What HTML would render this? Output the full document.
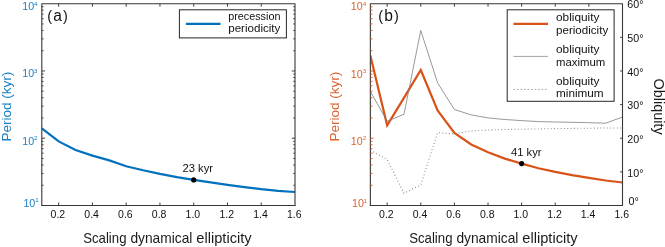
<!DOCTYPE html>
<html><head><meta charset="utf-8"><style>html,body{margin:0;padding:0;background:#fff}svg{display:block;will-change:transform}</style></head><body><svg width="665" height="247" viewBox="0 0 665 247" font-family="Liberation Sans, sans-serif">
<rect width="665" height="247" fill="#fff"/>
<clipPath id="c1"><rect x="41.8" y="3.7" width="253.2" height="201.8"/></clipPath>
<clipPath id="c2"><rect x="370.35" y="3.7" width="252.14999999999998" height="201.8"/></clipPath>
<polyline points="41.80,128.4 58.68,141.4 75.56,150.0 92.44,155.6 109.32,160.4 126.20,166.2 143.08,170.3 159.96,173.9 176.84,177.1 193.72,179.9 210.60,182.4 227.48,184.8 244.36,187.1 261.24,189.2 278.12,190.8 295.00,192.0" fill="none" stroke="#0072BD" stroke-width="2.2" stroke-linejoin="miter" clip-path="url(#c1)"/>
<path d="M41.30 3.70H295.50M41.80 3.70V206.00M295.00 3.70V206.00" fill="none" stroke="#3a3636" stroke-width="1.1"/>
<path d="M41.30 205.50H295.50" fill="none" stroke="#3a3636" stroke-width="1.0"/>
<path d="M58.68 205.50v-3M58.68 3.70v3M92.44 205.50v-3M92.44 3.70v3M126.20 205.50v-3M126.20 3.70v3M159.96 205.50v-3M159.96 3.70v3M193.72 205.50v-3M193.72 3.70v3M227.48 205.50v-3M227.48 3.70v3M261.24 205.50v-3M261.24 3.70v3" stroke="#3a3636" stroke-width="0.95" fill="none"/>
<path d="M41.80 185.25h1.7M41.80 173.41h1.7M41.80 165.00h1.7M41.80 158.48h1.7M41.80 153.16h1.7M41.80 148.65h1.7M41.80 144.75h1.7M41.80 141.31h1.7M41.80 138.23h3.2M41.80 117.98h1.7M41.80 106.14h1.7M41.80 97.73h1.7M41.80 91.22h1.7M41.80 85.89h1.7M41.80 81.39h1.7M41.80 77.49h1.7M41.80 74.04h1.7M41.80 70.97h3.2M41.80 50.72h1.7M41.80 38.87h1.7M41.80 30.47h1.7M41.80 23.95h1.7M41.80 18.62h1.7M41.80 14.12h1.7M41.80 10.22h1.7M41.80 6.78h1.7" stroke="#3a3636" stroke-width="0.95" fill="none"/>
<path d="M295.00 185.25h-1.7M295.00 173.41h-1.7M295.00 165.00h-1.7M295.00 158.48h-1.7M295.00 153.16h-1.7M295.00 148.65h-1.7M295.00 144.75h-1.7M295.00 141.31h-1.7M295.00 138.23h-3.2M295.00 117.98h-1.7M295.00 106.14h-1.7M295.00 97.73h-1.7M295.00 91.22h-1.7M295.00 85.89h-1.7M295.00 81.39h-1.7M295.00 77.49h-1.7M295.00 74.04h-1.7M295.00 70.97h-3.2M295.00 50.72h-1.7M295.00 38.87h-1.7M295.00 30.47h-1.7M295.00 23.95h-1.7M295.00 18.62h-1.7M295.00 14.12h-1.7M295.00 10.22h-1.7M295.00 6.78h-1.7" stroke="#3a3636" stroke-width="0.95" fill="none"/>
<text x="57.88" y="218.0" text-anchor="middle" font-size="10.7" fill="#111111" textLength="14.6" lengthAdjust="spacingAndGlyphs">0.2</text>
<text x="91.64" y="218.0" text-anchor="middle" font-size="10.7" fill="#111111" textLength="14.6" lengthAdjust="spacingAndGlyphs">0.4</text>
<text x="125.40" y="218.0" text-anchor="middle" font-size="10.7" fill="#111111" textLength="14.6" lengthAdjust="spacingAndGlyphs">0.6</text>
<text x="159.16" y="218.0" text-anchor="middle" font-size="10.7" fill="#111111" textLength="14.6" lengthAdjust="spacingAndGlyphs">0.8</text>
<text x="192.92" y="218.0" text-anchor="middle" font-size="10.7" fill="#111111" textLength="14.6" lengthAdjust="spacingAndGlyphs">1.0</text>
<text x="226.68" y="218.0" text-anchor="middle" font-size="10.7" fill="#111111" textLength="14.6" lengthAdjust="spacingAndGlyphs">1.2</text>
<text x="260.44" y="218.0" text-anchor="middle" font-size="10.7" fill="#111111" textLength="14.6" lengthAdjust="spacingAndGlyphs">1.4</text>
<text x="294.20" y="218.0" text-anchor="middle" font-size="10.7" fill="#111111" textLength="14.6" lengthAdjust="spacingAndGlyphs">1.6</text>
<text x="22.20" y="10.4" font-size="10.7" fill="#1a80c4">10<tspan dy="-4.4" font-size="6.2">4</tspan></text>
<text x="22.20" y="77.2" font-size="10.7" fill="#1a80c4">10<tspan dy="-4.4" font-size="6.2">3</tspan></text>
<text x="22.20" y="144.6" font-size="10.7" fill="#1a80c4">10<tspan dy="-4.4" font-size="6.2">2</tspan></text>
<text x="23.40" y="206.6" font-size="10.7" fill="#1a80c4">10<tspan dy="-4.4" font-size="6.2">1</tspan></text>
<text transform="translate(10.70,141.6) rotate(-90)" font-size="13.6" fill="#1a80c4" textLength="69.9" lengthAdjust="spacingAndGlyphs">Period (kyr)</text>
<text x="83.20" y="242.8" font-size="14.3" fill="#1a1a1a" textLength="43.3" lengthAdjust="spacingAndGlyphs">Scaling</text>
<text x="130.40" y="242.8" font-size="14.3" fill="#1a1a1a" textLength="62.0" lengthAdjust="spacingAndGlyphs">dynamical</text>
<text x="196.30" y="242.8" font-size="14.3" fill="#1a1a1a" textLength="55.3" lengthAdjust="spacingAndGlyphs">ellipticity</text>
<circle cx="193.72" cy="179.9" r="2.6" fill="#000"/>
<text x="182.5" y="171.8" font-size="10.5" fill="#111111" textLength="30.6" lengthAdjust="spacingAndGlyphs">23 kyr</text>
<text x="47.3" y="20.9" font-size="15.6" fill="#111" textLength="20.6" lengthAdjust="spacing"><tspan font-size="14.5">(</tspan>a<tspan font-size="14.5">)</tspan></text>
<rect x="179.4" y="9.8" width="107" height="28.1" fill="#fff" stroke="#262626" stroke-width="1.0"/>
<path d="M185.9 23.9H220.5" stroke="#0072BD" stroke-width="2.1"/>
<text x="228.2" y="20.1" font-size="10.7" fill="#111111" textLength="52.2" lengthAdjust="spacingAndGlyphs">precession</text>
<text x="228.2" y="32.4" font-size="10.7" fill="#111111" textLength="52.2" lengthAdjust="spacingAndGlyphs">periodicity</text>
<polyline points="370.35,55.5 387.16,125.35 403.97,97.9 420.78,70.0 437.59,110.5 454.40,133.0 471.21,144.5 488.02,152.3 504.83,158.6 521.64,163.6 538.45,168.2 555.26,171.9 572.07,175.2 588.88,177.9 605.69,180.5 622.50,182.5" fill="none" stroke="#D95319" stroke-width="2.2" stroke-linejoin="miter" clip-path="url(#c2)"/>
<polyline points="370.35,150.2 387.16,159.5 403.97,193.2 420.78,185.0 437.59,132.6 454.40,134.0 471.21,130.9 488.02,130.0 504.83,129.5 521.64,129.2 538.45,128.9 555.26,128.6 572.07,128.4 588.88,128.2 605.69,128.0 622.50,127.9" fill="none" stroke="#858585" stroke-width="1.05" stroke-dasharray="0.95 2.35" clip-path="url(#c2)"/>
<polyline points="370.35,91.4 387.16,121.2 403.97,114.3 420.78,30.5 437.59,82.8 454.40,109.5 471.21,114.9 488.02,117.9 504.83,119.5 521.64,120.6 538.45,121.6 555.26,122.0 572.07,122.3 588.88,122.7 605.69,123.2 622.50,117.0" fill="none" stroke="#7f7f7f" stroke-width="0.8" clip-path="url(#c2)"/>
<path d="M369.85 3.70H623.00M370.35 3.70V206.00M622.50 3.70V206.00" fill="none" stroke="#3a3636" stroke-width="1.1"/>
<path d="M369.85 205.50H623.00" fill="none" stroke="#3a3636" stroke-width="1.0"/>
<path d="M387.16 205.50v-3M387.16 3.70v3M420.78 205.50v-3M420.78 3.70v3M454.40 205.50v-3M454.40 3.70v3M488.02 205.50v-3M488.02 3.70v3M521.64 205.50v-3M521.64 3.70v3M555.26 205.50v-3M555.26 3.70v3M588.88 205.50v-3M588.88 3.70v3" stroke="#3a3636" stroke-width="0.95" fill="none"/>
<path d="M370.35 185.25h2.1M370.35 173.41h2.1M370.35 165.00h2.1M370.35 158.48h2.1M370.35 153.16h2.1M370.35 148.65h2.1M370.35 144.75h2.1M370.35 141.31h2.1M370.35 138.23h3.2M370.35 117.98h2.1M370.35 106.14h2.1M370.35 97.73h2.1M370.35 91.22h2.1M370.35 85.89h2.1M370.35 81.39h2.1M370.35 77.49h2.1M370.35 74.04h2.1M370.35 70.97h3.2M370.35 50.72h2.1M370.35 38.87h2.1M370.35 30.47h2.1M370.35 23.95h2.1M370.35 18.62h2.1M370.35 14.12h2.1M370.35 10.22h2.1M370.35 6.78h2.1" stroke="#D95319" stroke-width="0.95" fill="none"/>
<path d="M622.50 171.87h-2.4M622.50 138.23h-2.4M622.50 104.60h-2.4M622.50 70.97h-2.4M622.50 37.33h-2.4" stroke="#3a3636" stroke-width="0.95" fill="none"/>
<text x="386.36" y="218.0" text-anchor="middle" font-size="10.7" fill="#111111" textLength="14.6" lengthAdjust="spacingAndGlyphs">0.2</text>
<text x="419.98" y="218.0" text-anchor="middle" font-size="10.7" fill="#111111" textLength="14.6" lengthAdjust="spacingAndGlyphs">0.4</text>
<text x="453.60" y="218.0" text-anchor="middle" font-size="10.7" fill="#111111" textLength="14.6" lengthAdjust="spacingAndGlyphs">0.6</text>
<text x="487.22" y="218.0" text-anchor="middle" font-size="10.7" fill="#111111" textLength="14.6" lengthAdjust="spacingAndGlyphs">0.8</text>
<text x="520.84" y="218.0" text-anchor="middle" font-size="10.7" fill="#111111" textLength="14.6" lengthAdjust="spacingAndGlyphs">1.0</text>
<text x="554.46" y="218.0" text-anchor="middle" font-size="10.7" fill="#111111" textLength="14.6" lengthAdjust="spacingAndGlyphs">1.2</text>
<text x="588.08" y="218.0" text-anchor="middle" font-size="10.7" fill="#111111" textLength="14.6" lengthAdjust="spacingAndGlyphs">1.4</text>
<text x="621.70" y="218.0" text-anchor="middle" font-size="10.7" fill="#111111" textLength="14.6" lengthAdjust="spacingAndGlyphs">1.6</text>
<text x="350.75" y="10.4" font-size="10.7" fill="#dc6230">10<tspan dy="-4.4" font-size="6.2">4</tspan></text>
<text x="350.75" y="77.5" font-size="10.7" fill="#dc6230">10<tspan dy="-4.4" font-size="6.2">3</tspan></text>
<text x="350.75" y="144.6" font-size="10.7" fill="#dc6230">10<tspan dy="-4.4" font-size="6.2">2</tspan></text>
<text x="351.95" y="206.9" font-size="10.7" fill="#dc6230">10<tspan dy="-4.4" font-size="6.2">1</tspan></text>
<text transform="translate(339.25,141.6) rotate(-90)" font-size="13.6" fill="#dc6230" textLength="69.9" lengthAdjust="spacingAndGlyphs">Period (kyr)</text>
<text x="409.20" y="242.8" font-size="14.3" fill="#1a1a1a" textLength="43.3" lengthAdjust="spacingAndGlyphs">Scaling</text>
<text x="456.40" y="242.8" font-size="14.3" fill="#1a1a1a" textLength="62.0" lengthAdjust="spacingAndGlyphs">dynamical</text>
<text x="522.30" y="242.8" font-size="14.3" fill="#1a1a1a" textLength="55.3" lengthAdjust="spacingAndGlyphs">ellipticity</text>
<circle cx="521.64" cy="163.6" r="2.6" fill="#000"/>
<text x="511.0" y="155.8" font-size="10.5" fill="#111111" textLength="30.6" lengthAdjust="spacingAndGlyphs">41 kyr</text>
<text x="378.3" y="20.9" font-size="15.6" fill="#111" textLength="20.6" lengthAdjust="spacing"><tspan font-size="14.5">(</tspan>b<tspan font-size="14.5">)</tspan></text>
<text x="627.3" y="8.4" font-size="10.7" fill="#111111">60°</text>
<text x="627.3" y="42.1" font-size="10.7" fill="#111111">50°</text>
<text x="627.3" y="75.7" font-size="10.7" fill="#111111">40°</text>
<text x="627.3" y="109.2" font-size="10.7" fill="#111111">30°</text>
<text x="627.3" y="142.7" font-size="10.7" fill="#111111">20°</text>
<text x="627.3" y="177.1" font-size="10.7" fill="#111111">10°</text>
<text x="628.6" y="205.0" font-size="10.7" fill="#111111">0°</text>
<text transform="translate(654.1,78.6) rotate(90)" font-size="14.6" fill="#1a1a1a" textLength="56" lengthAdjust="spacingAndGlyphs">Obliquity</text>
<rect x="507.2" y="9.8" width="106.9" height="91.5" fill="#fff" stroke="#262626" stroke-width="1.0"/>
<path d="M513.5 23.9H548" stroke="#D95319" stroke-width="2.1"/>
<path d="M513.5 56.4H548" stroke="#8a8a8a" stroke-width="0.8"/>
<path d="M513.5 89.4H548" stroke="#9a9a9a" stroke-width="0.9" stroke-dasharray="1.7 1.8"/>
<text x="556" y="21.4" font-size="10.7" fill="#111111" textLength="43.4" lengthAdjust="spacingAndGlyphs">obliquity</text>
<text x="556" y="33.7" font-size="10.7" fill="#111111" textLength="52.2" lengthAdjust="spacingAndGlyphs">periodicity</text>
<text x="556" y="53.4" font-size="10.7" fill="#111111" textLength="43.4" lengthAdjust="spacingAndGlyphs">obliquity</text>
<text x="556" y="65.7" font-size="10.7" fill="#111111" textLength="49.2" lengthAdjust="spacingAndGlyphs">maximum</text>
<text x="556" y="85.4" font-size="10.7" fill="#111111" textLength="43.4" lengthAdjust="spacingAndGlyphs">obliquity</text>
<text x="556" y="97.3" font-size="10.7" fill="#111111" textLength="47.6" lengthAdjust="spacingAndGlyphs">minimum</text>
</svg></body></html>
